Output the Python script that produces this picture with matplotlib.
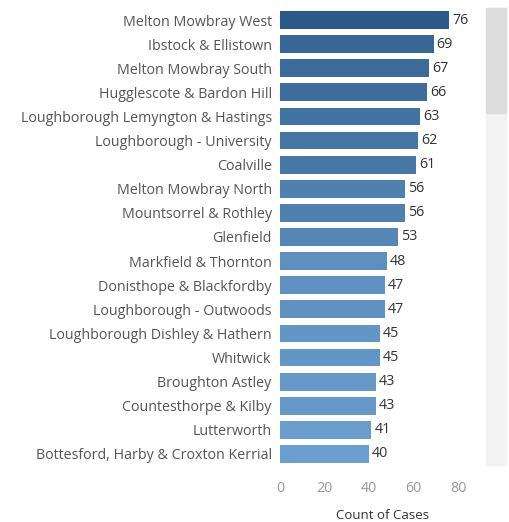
"""
Horizontal bar chart of case counts by area (Tableau style recreation)
"""

### Import modules
import numpy as np
import matplotlib.pyplot as plt
from matplotlib.colors import LinearSegmentedColormap, Normalize
from matplotlib.patches import Rectangle

### Data
areas = ['Melton Mowbray West', 'Ibstock & Ellistown', 'Melton Mowbray South',
         'Hugglescote & Bardon Hill', 'Loughborough Lemyngton & Hastings',
         'Loughborough - University', 'Coalville', 'Melton Mowbray North',
         'Mountsorrel & Rothley', 'Glenfield', 'Markfield & Thornton',
         'Donisthope & Blackfordby', 'Loughborough - Outwoods',
         'Loughborough Dishley & Hathern', 'Whitwick', 'Broughton Astley',
         'Countesthorpe & Kilby', 'Lutterworth',
         'Bottesford, Harby & Croxton Kerrial']
cases = [76, 69, 67, 66, 63, 62, 61, 56, 56, 53, 48, 47, 47, 45, 45, 43,
         43, 41, 40]
xticks = [0, 20, 40, 60, 80]

### Plot
plt.rc('font', family='Open Sans')
fig = plt.figure(figsize=(5.10, 5.22), dpi=100)
ax = fig.add_axes([280/510, 1 - 466/522, 205/510, 458/522])

cmap = LinearSegmentedColormap.from_list('blues', ['#6b9fcf', '#2a5a8a'])
norm = Normalize(vmin=min(cases), vmax=max(cases))
ypos = np.arange(len(areas))
ax.barh(ypos, cases, height=0.74, color=cmap(norm(np.array(cases))), zorder=2)

for y, v in zip(ypos, cases):
    ax.text(v + 1.3, y, str(v), va='center', ha='left', fontsize=10.3,
            color='#333333')

ax.set_yticks(ypos)
ax.set_yticklabels(areas, fontsize=10.3, color='#555555')
ax.set_ylim(len(areas) - 0.5, -0.5)
ax.set_xlim(0, 92)
ax.set_xticks(xticks)
ax.set_xticklabels([str(t) for t in xticks], fontsize=10.3, color='#999999')
ax.tick_params(length=0, pad=6)
ax.tick_params(axis='x', pad=11)
for s in ax.spines.values():
    s.set_visible(False)
ax.set_xlabel('Count of Cases', fontsize=9.5, color='#333333', labelpad=9)

### Scrollbar
fig.patches.append(Rectangle((486/510, 1 - 465/522), 20/510, 457/522,
                             transform=fig.transFigure, color='#f3f3f3',
                             zorder=0))
fig.patches.append(Rectangle((486/510, 1 - 113/522), 20/510, 105/522,
                             transform=fig.transFigure, color='#dcdcdc',
                             zorder=1))

plt.savefig('out.png', dpi=100)
